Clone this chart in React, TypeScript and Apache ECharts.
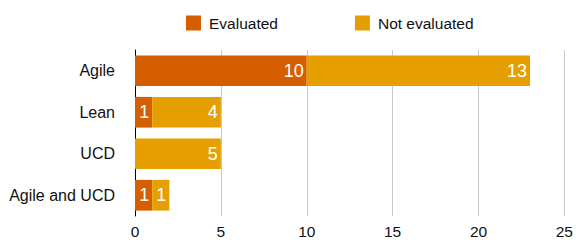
import React, { useEffect, useRef } from "react";
import * as echarts from "echarts";

const categories = ["Agile", "Lean", "UCD", "Agile and UCD"];
const evaluated = [10, 1, 0, 1];
const notEvaluated = [13, 4, 5, 1];
const seriesNames = ["Evaluated", "Not evaluated"];
const colors = ["#D55E00", "#E69F00"];

export default function App() {
  const ref = useRef<HTMLDivElement>(null);
  useEffect(() => {
    const chart = echarts.init(ref.current!, null, { renderer: "svg" });
    const font = "'Liberation Sans', Arial, Helvetica, sans-serif";
    const label = {
      show: true,
      position: "insideRight",
      color: "#fff",
      fontSize: 18,
      fontFamily: font,
      distance: 3,
      formatter: (p: any) => (p.value > 0 ? String(p.value) : ""),
    };
    chart.setOption({
      animation: false,
      textStyle: { fontFamily: font },
      legend: {
        top: 10,
        left: 181,
        itemWidth: 15,
        itemHeight: 15,
        itemGap: 77,
        icon: "rect",
        textStyle: { fontSize: 15.5, color: "#111", fontFamily: font, padding: [0, 0, 0, 3] },
        data: seriesNames,
      },
      grid: { left: 135, right: 7, top: 50, bottom: 31, containLabel: false },
      xAxis: {
        type: "value",
        min: 0,
        max: 25,
        interval: 5,
        axisLine: { show: false },
        axisTick: { show: false },
        splitLine: { lineStyle: { color: "#c8c8c8", width: 1 } },
        axisLabel: { fontSize: 15.5, color: "#111", margin: 7, fontFamily: font },
      },
      yAxis: {
        type: "category",
        inverse: true,
        data: categories,
        axisLine: { show: true, lineStyle: { color: "#000", width: 1 } },
        axisTick: { show: false },
        axisLabel: { fontSize: 16, color: "#111", margin: 20, fontFamily: font },
      },
      series: [
        {
          name: seriesNames[0],
          type: "bar",
          stack: "total",
          data: evaluated,
          barCategoryGap: "26%",
          itemStyle: { color: colors[0] },
          label,
        },
        {
          name: seriesNames[1],
          type: "bar",
          stack: "total",
          data: notEvaluated,
          barCategoryGap: "26%",
          itemStyle: { color: colors[1] },
          label,
        },
      ],
    });
    return () => chart.dispose();
  }, []);
  return <div ref={ref} style={{ width: 576, height: 247, position: "absolute", left: 0, top: 0 }} />;
}
